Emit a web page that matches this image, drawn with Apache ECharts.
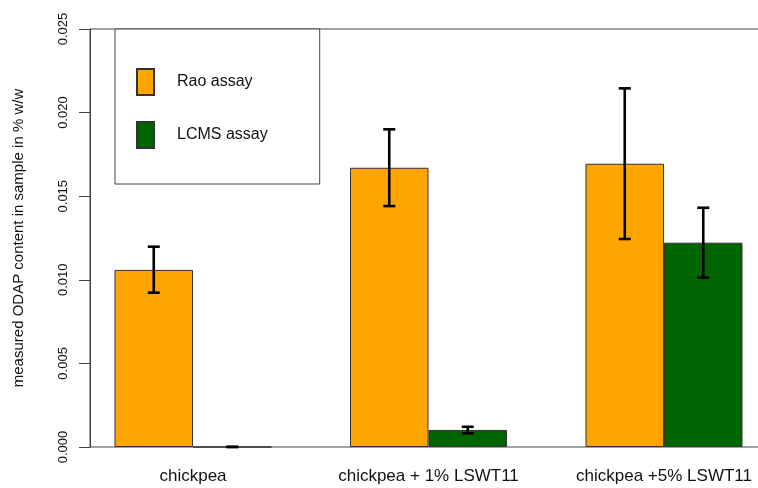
<!DOCTYPE html>
<html>
<head>
<meta charset="utf-8">
<script src="https://cdn.jsdelivr.net/npm/echarts@6/dist/echarts.min.js"></script>
<style>html,body{margin:0;padding:0;background:#fff;}#c{width:758px;height:488px;}</style>
</head>
<body>
<div id="c"></div>
<script>
var categories = ['chickpea', 'chickpea + 1% LSWT11', 'chickpea +5% LSWT11'];
var seriesNames = ['Rao assay', 'LCMS assay'];
var raoMeans = [0.01059, 0.01670, 0.01694];
var raoLow   = [0.00923, 0.01441, 0.01244];
var raoHigh  = [0.01198, 0.01900, 0.02145];
var lcmsMeans = [0.00000, 0.00102, 0.01222];
var lcmsLow   = [0.00000, 0.00082, 0.01013];
var lcmsHigh  = [0.00001, 0.00121, 0.01431];
var yTicks = [0, 0.005, 0.010, 0.015, 0.020, 0.025];

var errData = [];
for (var i = 0; i < categories.length; i++) {
  errData.push([i, raoLow[i], raoHigh[i], 0]);
  errData.push([i, lcmsLow[i], lcmsHigh[i], 1]);
}

var chart = echarts.init(document.getElementById('c'), null, {renderer: 'canvas'});
var font = 'Liberation Sans, Arial, Helvetica, sans-serif';
chart.setOption({
  animation: false,
  backgroundColor: '#ffffff',
  textStyle: {fontFamily: font},
  grid: [
    {left: 90, top: 29, width: 678, height: 418, show: true, borderColor: '#444', borderWidth: 1,
     backgroundColor: 'transparent', containLabel: false, outerBoundsMode: 'none'},
    {left: 75.25, top: 29, width: 706.5, height: 418, containLabel: false, outerBoundsMode: 'none'}
  ],
  legend: {
    data: seriesNames,
    orient: 'vertical',
    icon: 'rect',
    left: 115, top: 29,
    padding: [39, 52, 35, 21],
    itemWidth: 17, itemHeight: 26, itemGap: 25,
    borderColor: '#444', borderWidth: 1,
    backgroundColor: '#fff',
    textStyle: {fontSize: 16, color: '#111', fontFamily: font, padding: [0, 0, 0, 18]}
  },
  xAxis: [
    {type: 'value', gridIndex: 0, show: false, min: 0, max: 1},
    {type: 'category', gridIndex: 1, data: categories,
     axisLine: {show: false}, axisTick: {show: false},
     axisLabel: {fontSize: 17, color: '#111', margin: 21, fontFamily: font}}
  ],
  yAxis: [
    {type: 'value', gridIndex: 0, min: yTicks[0], max: yTicks[yTicks.length - 1], interval: 0.005,
     axisLine: {show: true, lineStyle: {color: '#444', width: 1}},
     axisTick: {show: true, length: 11, lineStyle: {color: '#444'}},
     splitLine: {show: false},
     axisLabel: {rotate: 90, fontSize: 13, color: '#111', margin: 20, fontFamily: font,
                 formatter: function (v) { return v.toFixed(3); }},
     name: 'measured ODAP content in sample in % w/w',
     nameLocation: 'middle', nameGap: 64,
     nameTextStyle: {fontSize: 15, color: '#111', fontFamily: font}},
    {type: 'value', gridIndex: 1, min: 0, max: 0.025, show: false}
  ],
  series: [
    {name: seriesNames[0], type: 'bar', xAxisIndex: 1, yAxisIndex: 1, data: raoMeans,
     barWidth: '33.33%', barGap: '0%',
     itemStyle: {color: '#FFA500', borderColor: '#333', borderWidth: 1}},
    {name: seriesNames[1], type: 'bar', xAxisIndex: 1, yAxisIndex: 1, data: lcmsMeans,
     barWidth: '33.33%', barGap: '0%',
     itemStyle: {color: '#006400', borderColor: '#333', borderWidth: 1}},
    {type: 'custom', xAxisIndex: 1, yAxisIndex: 1, data: errData, z: 10, silent: true,
     renderItem: function (params, api) {
       var band = api.size([1, 0])[0];
       var off = (api.value(3) === 0 ? -1 : 1) * band / 6;
       var lo = api.coord([api.value(0), api.value(1)]);
       var hi = api.coord([api.value(0), api.value(2)]);
       var x = lo[0] + off;
       var cap = 6;
       var st = {stroke: '#000', lineWidth: 2.6};
       return {type: 'group', children: [
         {type: 'line', shape: {x1: x, y1: lo[1], x2: x, y2: hi[1]}, style: st},
         {type: 'line', shape: {x1: x - cap, y1: lo[1], x2: x + cap, y2: lo[1]}, style: st},
         {type: 'line', shape: {x1: x - cap, y1: hi[1], x2: x + cap, y2: hi[1]}, style: st}
       ]};
     }}
  ]
});
</script>
</body>
</html>
